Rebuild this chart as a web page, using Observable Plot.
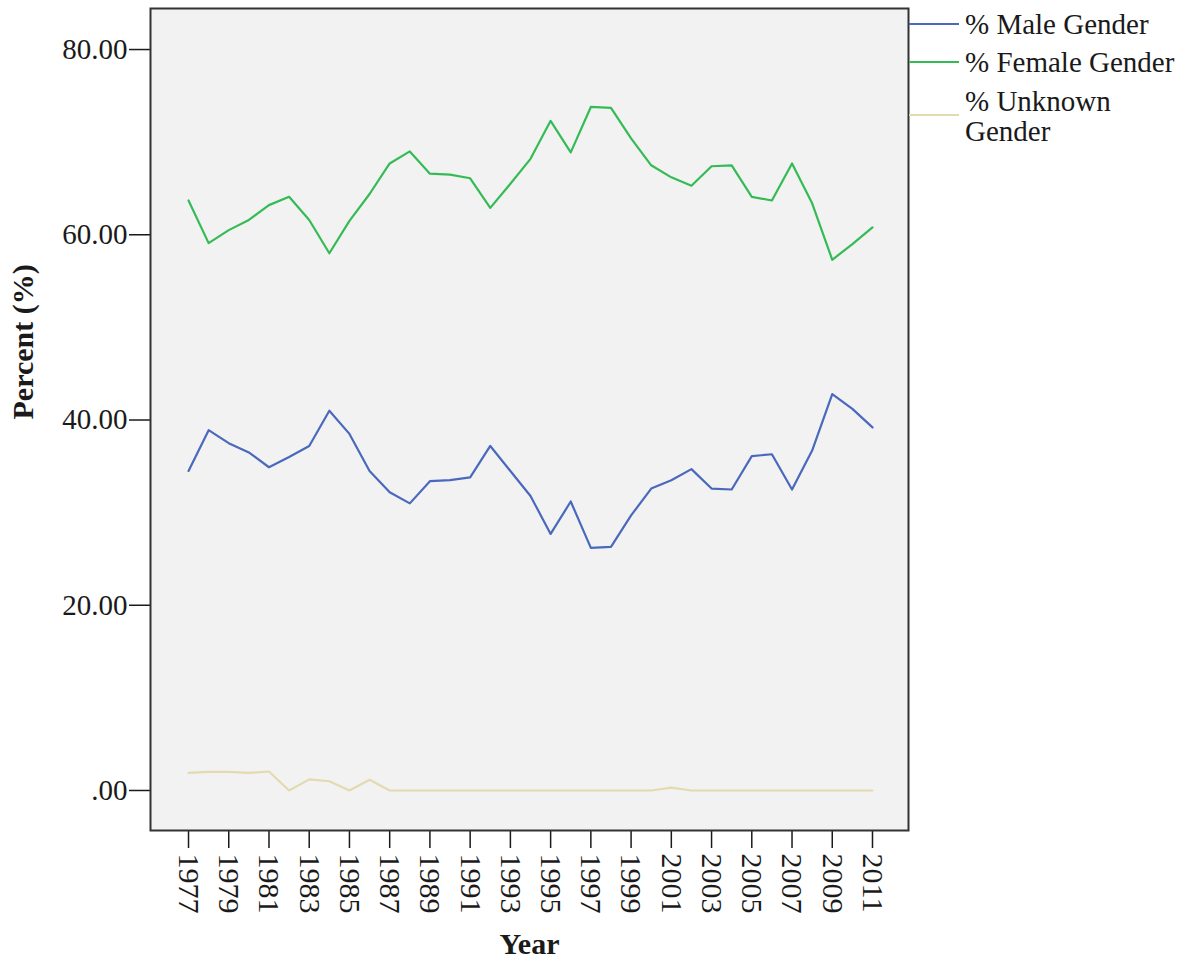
<!DOCTYPE html>
<html>
<head>
<meta charset="utf-8">
<script src="https://cdn.jsdelivr.net/npm/d3@7"></script>
<script src="https://cdn.jsdelivr.net/npm/@observablehq/plot@0.6"></script>
<style>
  html, body { margin: 0; padding: 0; background: #fff; }
  #wrap { position: relative; width: 1204px; height: 968px; font-family: 'Liberation Serif', serif; }
  .lg-line { position: absolute; left: 909px; width: 50px; height: 0; border-top: 2px solid; }
  .lg-text { position: absolute; left: 965px; font-family: 'Liberation Serif', serif; font-size: 29px; line-height: 30px; color: #1a1a1a; white-space: nowrap; }
</style>
</head>
<body>
<div id="wrap"></div>
<script>
const years = d3.range(1977, 2012);
const male = [34.5, 38.9, 37.5, 36.5, 34.9, 36.0, 37.2, 41.0, 38.5, 34.5, 32.2, 31.0, 33.4, 33.5, 33.8, 37.2, 34.5, 31.8,
              27.7, 31.2, 26.2, 26.3, 29.7, 32.6, 33.5, 34.7, 32.6, 32.5, 36.1, 36.3, 32.5, 36.7, 42.8, 41.2, 39.2];
const female = [63.7, 59.1, 60.5, 61.6, 63.2, 64.1, 61.6, 58.0, 61.5, 64.4, 67.7, 69.0, 66.6, 66.5, 66.1, 62.9, 65.5, 68.2,
                72.3, 68.9, 73.8, 73.7, 70.4, 67.5, 66.2, 65.3, 67.4, 67.5, 64.1, 63.7, 67.7, 63.4, 57.3, 59.0, 60.8];
const unknown = [1.9, 2.0, 2.0, 1.9, 2.05, 0.0, 1.2, 1.0, 0.0, 1.15, 0.0, 0.0, 0.0, 0.0, 0.0, 0.0, 0.0, 0.0,
                 0.0, 0.0, 0.0, 0.0, 0.0, 0.0, 0.3, 0.0, 0.0, 0.0, 0.0, 0.0, 0.0, 0.0, 0.0, 0.0, 0.0];
const seriesNames = ["% Male Gender", "% Female Gender", "% Unknown Gender"];
const seriesColors = ["#4a69bd", "#35bb55", "#e3dab0"];
const yTicks = [0, 20, 40, 60, 80];
const xTicks = d3.range(1977, 2012, 2);

const rows = [];
years.forEach((yr, i) => {
  rows.push({year: yr, value: male[i], series: seriesNames[0]});
  rows.push({year: yr, value: female[i], series: seriesNames[1]});
  rows.push({year: yr, value: unknown[i], series: seriesNames[2]});
});

const chart = Plot.plot({
  width: 1204,
  height: 968,
  marginLeft: 150,
  marginRight: 296,
  marginTop: 8,
  marginBottom: 138,
  style: {fontFamily: "'Liberation Serif', serif", fontSize: "29px", color: "#1a1a1a", background: "#fff"},
  x: {domain: [1975.11, 2012.79]},
  y: {domain: [-4.32, 84.43]},
  color: {domain: seriesNames, range: seriesColors},
  marks: [
    Plot.frame({fill: "#f2f2f2", stroke: null}),
    Plot.axisY({ticks: yTicks, tickSize: 21, tickPadding: 2, tickFormat: d => d === 0 ? ".00" : d.toFixed(2), label: null, fontSize: 29, strokeWidth: 1.5}),
    Plot.axisX({ticks: xTicks, tickSize: 18, tickPadding: 5, tickRotate: 90, tickFormat: d => String(d), label: null, fontSize: 30, strokeWidth: 1.5}),
    Plot.line(rows, {x: "year", y: "value", z: "series", stroke: "series", strokeWidth: 2.2}),
    Plot.frame({stroke: "#333", strokeWidth: 2}),
    Plot.text(["Year"], {frameAnchor: "bottom", dy: 123, fontWeight: "bold", fontSize: 30}),
    Plot.text(["Percent (%)"], {frameAnchor: "left", dx: -127, rotate: -90, fontWeight: "bold", fontSize: 30})
  ]
});

const wrap = document.getElementById("wrap");
wrap.appendChild(chart);

// legend (right side)
const legendItems = [
  {lines: ["% Male Gender"], swatchY: 24, textTop: 9, color: seriesColors[0]},
  {lines: ["% Female Gender"], swatchY: 62, textTop: 47, color: seriesColors[1]},
  {lines: ["% Unknown", "Gender"], swatchY: 115, textTop: 86, color: seriesColors[2]}
];
legendItems.forEach(it => {
  const sw = document.createElement("div");
  sw.className = "lg-line";
  sw.style.top = (it.swatchY - 1) + "px";
  sw.style.borderTopColor = it.color;
  wrap.appendChild(sw);
  const t = document.createElement("div");
  t.className = "lg-text";
  t.style.top = it.textTop + "px";
  t.innerHTML = it.lines.join("<br>");
  wrap.appendChild(t);
});
</script>
</body>
</html>
